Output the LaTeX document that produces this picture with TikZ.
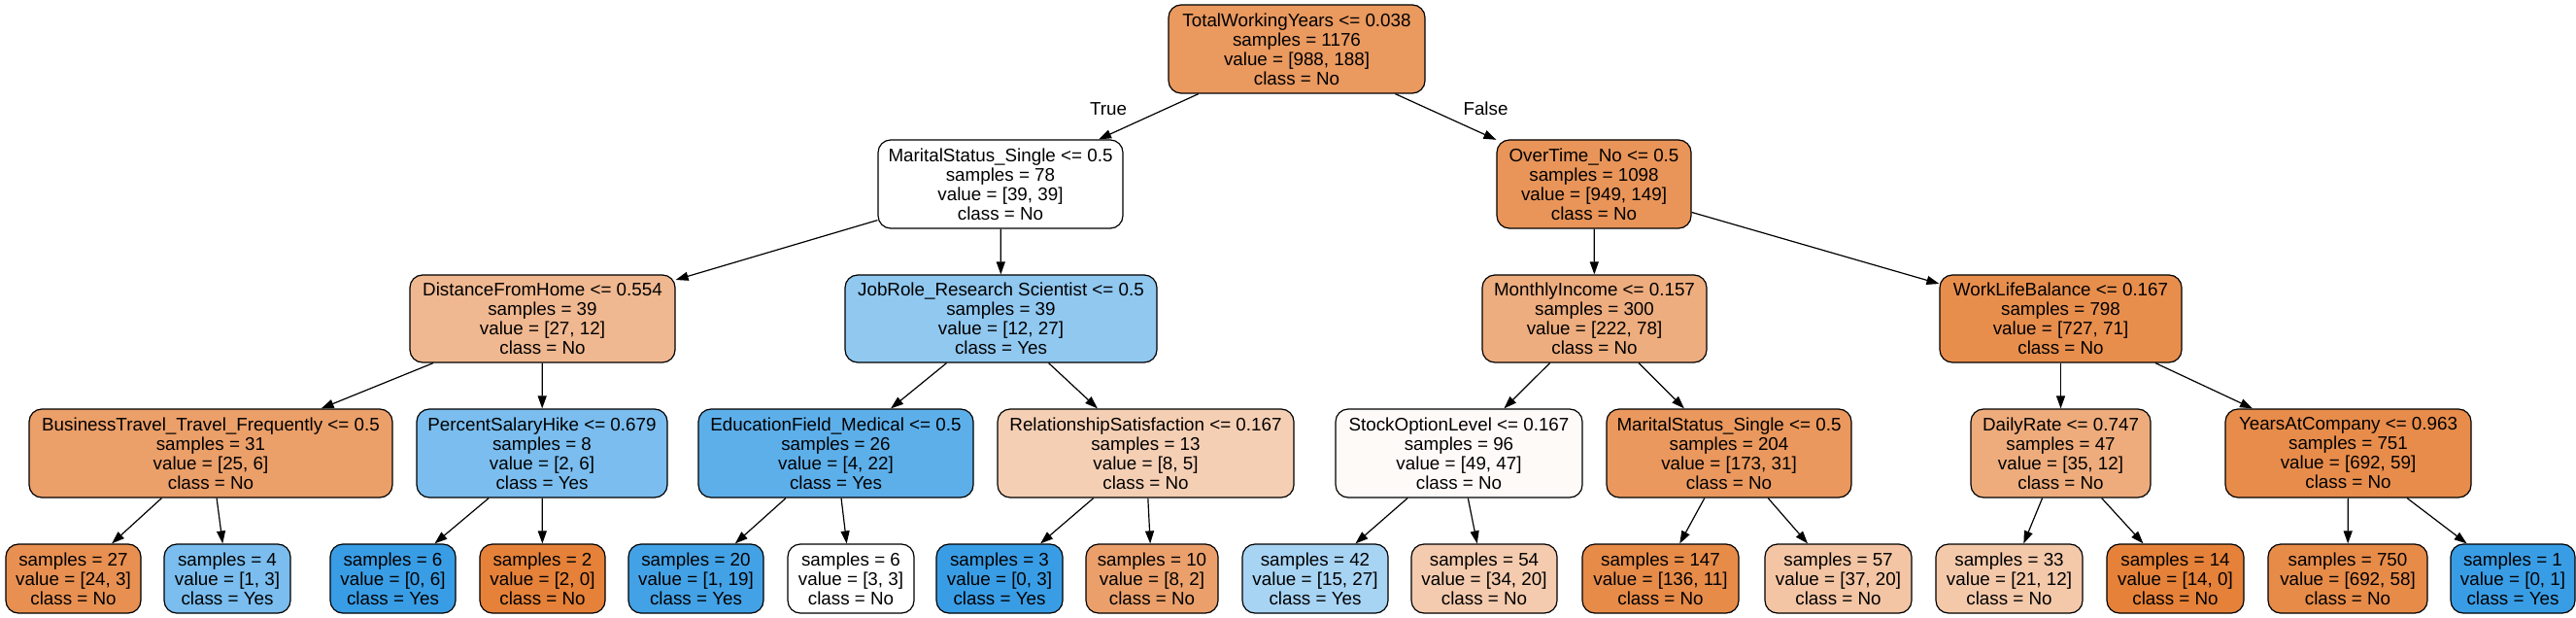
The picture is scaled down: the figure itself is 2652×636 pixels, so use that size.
\documentclass[tikz,border=0pt]{standalone}
\usepackage{fontspec}
\setmainfont{Liberation Sans}
\usepackage{xcolor}
\usepackage{tikz}
\usetikzlibrary{arrows.meta}
\definecolor{clsno}{RGB}{229, 129, 57}
\definecolor{clsyes}{RGB}{57, 157, 229}

\begin{document}
\begin{tikzpicture}[x=1pt, y=1pt,
    box/.style={draw=black, line width=1.2pt, rounded corners=13pt, align=center,
        inner sep=0pt, font=\fontsize{18.8}{20}\selectfont},
    split/.style={box, minimum height=91pt},
    leaf/.style={box, minimum height=71pt},
    edge/.style={-{Triangle[length=13pt,width=9pt]}, line width=1.2pt},
    edgelabel/.style={font=\fontsize{18.8}{20}\selectfont}]
    \useasboundingbox (0,0) rectangle (2652,-636);

    % Root
    \node[split, minimum width=264pt, fill=clsno!81!white] (root) at (1335,-50.5)
        {TotalWorkingYears <= 0.038\\samples = 1176\\value = [988, 188]\\class = No};

    % Depth 1
    \node[split, minimum width=252pt, fill=white] (msing) at (1030,-189.5)
        {MaritalStatus\_Single <= 0.5\\samples = 78\\value = [39, 39]\\class = No};
    \node[split, minimum width=200pt, fill=clsno!84!white] (otno) at (1641,-189.5)
        {OverTime\_No <= 0.5\\samples = 1098\\value = [949, 149]\\class = No};

    % Depth 2
    \node[split, minimum width=273pt, minimum height=90pt, fill=clsno!56!white] (dfh) at (558.5,-328)
        {DistanceFromHome <= 0.554\\samples = 39\\value = [27, 12]\\class = No};
    \node[split, minimum width=321pt, minimum height=90pt, fill=clsyes!56!white] (jrrs) at (1030.5,-328)
        {JobRole\_Research Scientist <= 0.5\\samples = 39\\value = [12, 27]\\class = Yes};
    \node[split, minimum width=231pt, minimum height=90pt, fill=clsno!65!white] (minc) at (1641.5,-328)
        {MonthlyIncome <= 0.157\\samples = 300\\value = [222, 78]\\class = No};
    \node[split, minimum width=249pt, minimum height=90pt, fill=clsno!90!white] (wlb) at (2121.5,-328)
        {WorkLifeBalance <= 0.167\\samples = 798\\value = [727, 71]\\class = No};

    % Depth 3
    \node[split, minimum width=374pt, fill=clsno!76!white] (btf) at (217,-466.5)
        {BusinessTravel\_Travel\_Frequently <= 0.5\\samples = 31\\value = [25, 6]\\class = No};
    \node[split, minimum width=258pt, fill=clsyes!67!white] (psh) at (558,-466.5)
        {PercentSalaryHike <= 0.679\\samples = 8\\value = [2, 6]\\class = Yes};
    \node[split, minimum width=283pt, fill=clsyes!82!white] (efm) at (860.5,-466.5)
        {EducationField\_Medical <= 0.5\\samples = 26\\value = [4, 22]\\class = Yes};
    \node[split, minimum width=305pt, fill=clsno!38!white] (rsat) at (1179.5,-466.5)
        {RelationshipSatisfaction <= 0.167\\samples = 13\\value = [8, 5]\\class = No};
    \node[split, minimum width=254pt, fill=clsno!4!white] (sol) at (1502,-466.5)
        {StockOptionLevel <= 0.167\\samples = 96\\value = [49, 47]\\class = No};
    \node[split, minimum width=252pt, fill=clsno!82!white] (msingb) at (1780,-466.5)
        {MaritalStatus\_Single <= 0.5\\samples = 204\\value = [173, 31]\\class = No};
    \node[split, minimum width=185pt, fill=clsno!66!white] (drate) at (2121.5,-466.5)
        {DailyRate <= 0.747\\samples = 47\\value = [35, 12]\\class = No};
    \node[split, minimum width=253pt, fill=clsno!91!white] (yac) at (2417.5,-466.5)
        {YearsAtCompany <= 0.963\\samples = 751\\value = [692, 59]\\class = No};

    % Leaves
    \node[leaf, minimum width=139pt, fill=clsno!88!white] (lfa) at (75.5,-595.5)
        {samples = 27\\value = [24, 3]\\class = No};
    \node[leaf, minimum width=130pt, fill=clsyes!67!white] (lfb) at (234,-595.5)
        {samples = 4\\value = [1, 3]\\class = Yes};
    \node[leaf, minimum width=129pt, fill=clsyes] (lfc) at (404.5,-595.5)
        {samples = 6\\value = [0, 6]\\class = Yes};
    \node[leaf, minimum width=129pt, fill=clsno] (lfd) at (558.5,-595.5)
        {samples = 2\\value = [2, 0]\\class = No};
    \node[leaf, minimum width=139pt, fill=clsyes!95!white] (lfe) at (716.5,-595.5)
        {samples = 20\\value = [1, 19]\\class = Yes};
    \node[leaf, minimum width=130pt, fill=white] (lff) at (876,-595.5)
        {samples = 6\\value = [3, 3]\\class = No};
    \node[leaf, minimum width=130pt, fill=clsyes] (lfg) at (1029,-595.5)
        {samples = 3\\value = [0, 3]\\class = Yes};
    \node[leaf, minimum width=136pt, fill=clsno!75!white] (lfh) at (1186,-595.5)
        {samples = 10\\value = [8, 2]\\class = No};
    \node[leaf, minimum width=150pt, fill=clsyes!44!white] (lfi) at (1354,-595.5)
        {samples = 42\\value = [15, 27]\\class = Yes};
    \node[leaf, minimum width=150pt, fill=clsno!41!white] (lfj) at (1528,-595.5)
        {samples = 54\\value = [34, 20]\\class = No};
    \node[leaf, minimum width=161pt, fill=clsno!92!white] (lfk) at (1709.5,-595.5)
        {samples = 147\\value = [136, 11]\\class = No};
    \node[leaf, minimum width=151pt, fill=clsno!46!white] (lfl) at (1892.5,-595.5)
        {samples = 57\\value = [37, 20]\\class = No};
    \node[leaf, minimum width=151pt, fill=clsno!43!white] (lfm) at (2068.5,-595.5)
        {samples = 33\\value = [21, 12]\\class = No};
    \node[leaf, minimum width=141pt, fill=clsno] (lfn) at (2239.5,-595.5)
        {samples = 14\\value = [14, 0]\\class = No};
    \node[leaf, minimum width=164pt, fill=clsno!92!white] (lfo) at (2417,-595.5)
        {samples = 750\\value = [692, 58]\\class = No};
    \node[leaf, minimum width=128pt, fill=clsyes] (lfp) at (2587,-595.5)
        {samples = 1\\value = [0, 1]\\class = Yes};

    % Edges
    \draw[edge] (root) -- (msing);
    \draw[edge] (root) -- (otno);
    \draw[edge] (msing) -- (dfh);
    \draw[edge] (msing) -- (jrrs);
    \draw[edge] (otno) -- (minc);
    \draw[edge] (otno) -- (wlb);
    \draw[edge] (dfh) -- (btf);
    \draw[edge] (dfh) -- (psh);
    \draw[edge] (jrrs) -- (efm);
    \draw[edge] (jrrs) -- (rsat);
    \draw[edge] (minc) -- (sol);
    \draw[edge] (minc) -- (msingb);
    \draw[edge] (wlb) -- (drate);
    \draw[edge] (wlb) -- (yac);
    \draw[edge] (btf) -- (lfa);
    \draw[edge] (btf) -- (lfb);
    \draw[edge] (psh) -- (lfc);
    \draw[edge] (psh) -- (lfd);
    \draw[edge] (efm) -- (lfe);
    \draw[edge] (efm) -- (lff);
    \draw[edge] (rsat) -- (lfg);
    \draw[edge] (rsat) -- (lfh);
    \draw[edge] (sol) -- (lfi);
    \draw[edge] (sol) -- (lfj);
    \draw[edge] (msingb) -- (lfk);
    \draw[edge] (msingb) -- (lfl);
    \draw[edge] (drate) -- (lfm);
    \draw[edge] (drate) -- (lfn);
    \draw[edge] (yac) -- (lfo);
    \draw[edge] (yac) -- (lfp);

    % Branch labels
    \node[edgelabel] (lbltrue) at (1141,-112) {True};
    \node[edgelabel] (lblfalse) at (1529.5,-112) {False};
\end{tikzpicture}
\end{document}
